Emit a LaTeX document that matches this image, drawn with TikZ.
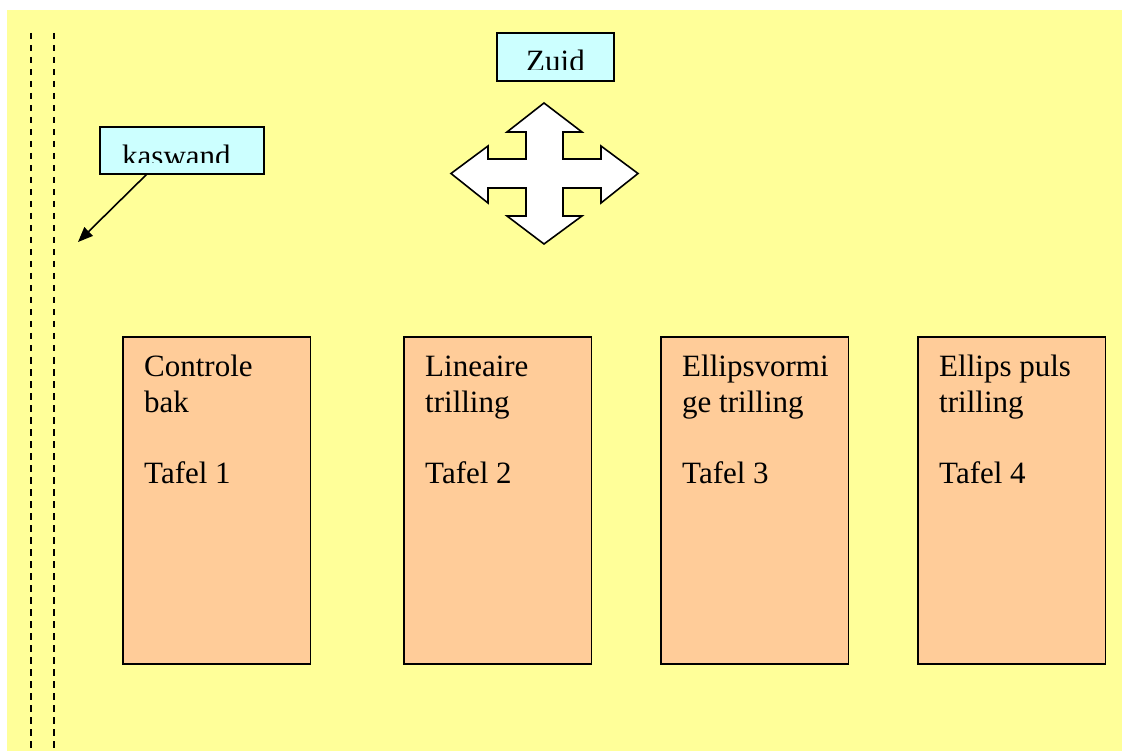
\documentclass[tikz,border=0pt]{standalone}
\usepackage{fontspec}
\setmainfont{Liberation Serif}
\usetikzlibrary{arrows.meta}
\definecolor{floorcolor}{RGB}{255,255,153}
\definecolor{tablecolor}{RGB}{255,204,153}
\definecolor{tagcolor}{RGB}{204,255,255}
\begin{document}
\begin{tikzpicture}[x=1pt,y=-1pt,
  wallline/.style={black,line width=2pt,dash pattern=on 6.5pt off 5.5pt},
  tagbox/.style={draw=black,fill=tagcolor,line width=1.8pt,inner sep=0pt,outer sep=0pt,anchor=north west},
  tagtext/.style={inner sep=0pt,font=\fontsize{31}{36}\selectfont},
  tablebox/.style={draw=black,fill=tablecolor,line width=1.8pt,inner sep=0pt,outer sep=0pt,
    minimum width=187.5pt,minimum height=327pt,anchor=north west},
  tabletext/.style={inner sep=0pt,anchor=base west},
  pointer/.style={black,line width=1.6pt,-{Triangle[length=15pt,width=12pt]}},
  compass/.style={draw=black,fill=white,line width=1.6pt,line join=miter}]
\useasboundingbox (0,0) rectangle (1122,751);
\fill[white] (0,0) rectangle (1122,751);
\fill[floorcolor] (7,10) rectangle (1122,751);

% greenhouse wall
\draw[wallline] (31,33) -- (31,751);
\draw[wallline] (54,33) -- (54,751);

% label boxes
\node[tagbox,minimum width=164pt,minimum height=47pt] (kas) at (100,127) {};
\node[tagbox,minimum width=117pt,minimum height=48pt] (zuid) at (497,33) {};
\begin{scope}
  \clip (kas.north west) rectangle ([yshift=11pt]kas.south east);
  \node[tagtext,anchor=base west] (kastext) at (122,166.5) {kaswand};
\end{scope}
\begin{scope}
  \clip (zuid.north west) rectangle ([yshift=11pt]zuid.south east);
  \node[tagtext,anchor=base] (zuidtext) at (555.5,72) {Zuid};
\end{scope}

% pointer to the wall
\coordinate (wall) at (78,242);
\draw[pointer] ([xshift=47pt]kas.south west) -- (wall);

% compass cross
\draw[compass] (544,103) -- (582,132) -- (563,132) -- (563,159) -- (601,159) -- (601,146)
  -- (638,173.5) -- (601,203) -- (601,188) -- (563,188) -- (563,216) -- (582,216)
  -- (544,244) -- (507,216) -- (526,216) -- (526,188) -- (488,188) -- (488,203)
  -- (451,173.5) -- (488,146) -- (488,159) -- (526,159) -- (526,132) -- (507,132) -- cycle;

% tables
\node[tablebox] (t1) at (123,337) {};
\node[tablebox] (t2) at (404,337) {};
\node[tablebox] (t3) at (661,337) {};
\node[tablebox] (t4) at (918,337) {};

\newcommand\tabletxt[1]{\parbox[t]{170pt}{\raggedright\fontsize{31}{35.5}\selectfont #1}}
\node[tabletext] (t1text) at ([shift={(21,40)}]t1.north west) {\tabletxt{Controle\\bak\\[35.5pt]Tafel 1}};
\node[tabletext] (t2text) at ([shift={(21,40)}]t2.north west) {\tabletxt{Lineaire\\trilling\\[35.5pt]Tafel 2}};
\node[tabletext] (t3text) at ([shift={(21,40)}]t3.north west) {\tabletxt{Ellipsvormi\\ge trilling\\[35.5pt]Tafel 3}};
\node[tabletext] (t4text) at ([shift={(21,40)}]t4.north west) {\tabletxt{Ellips puls\\trilling\\[35.5pt]Tafel 4}};
\end{tikzpicture}
\end{document}
